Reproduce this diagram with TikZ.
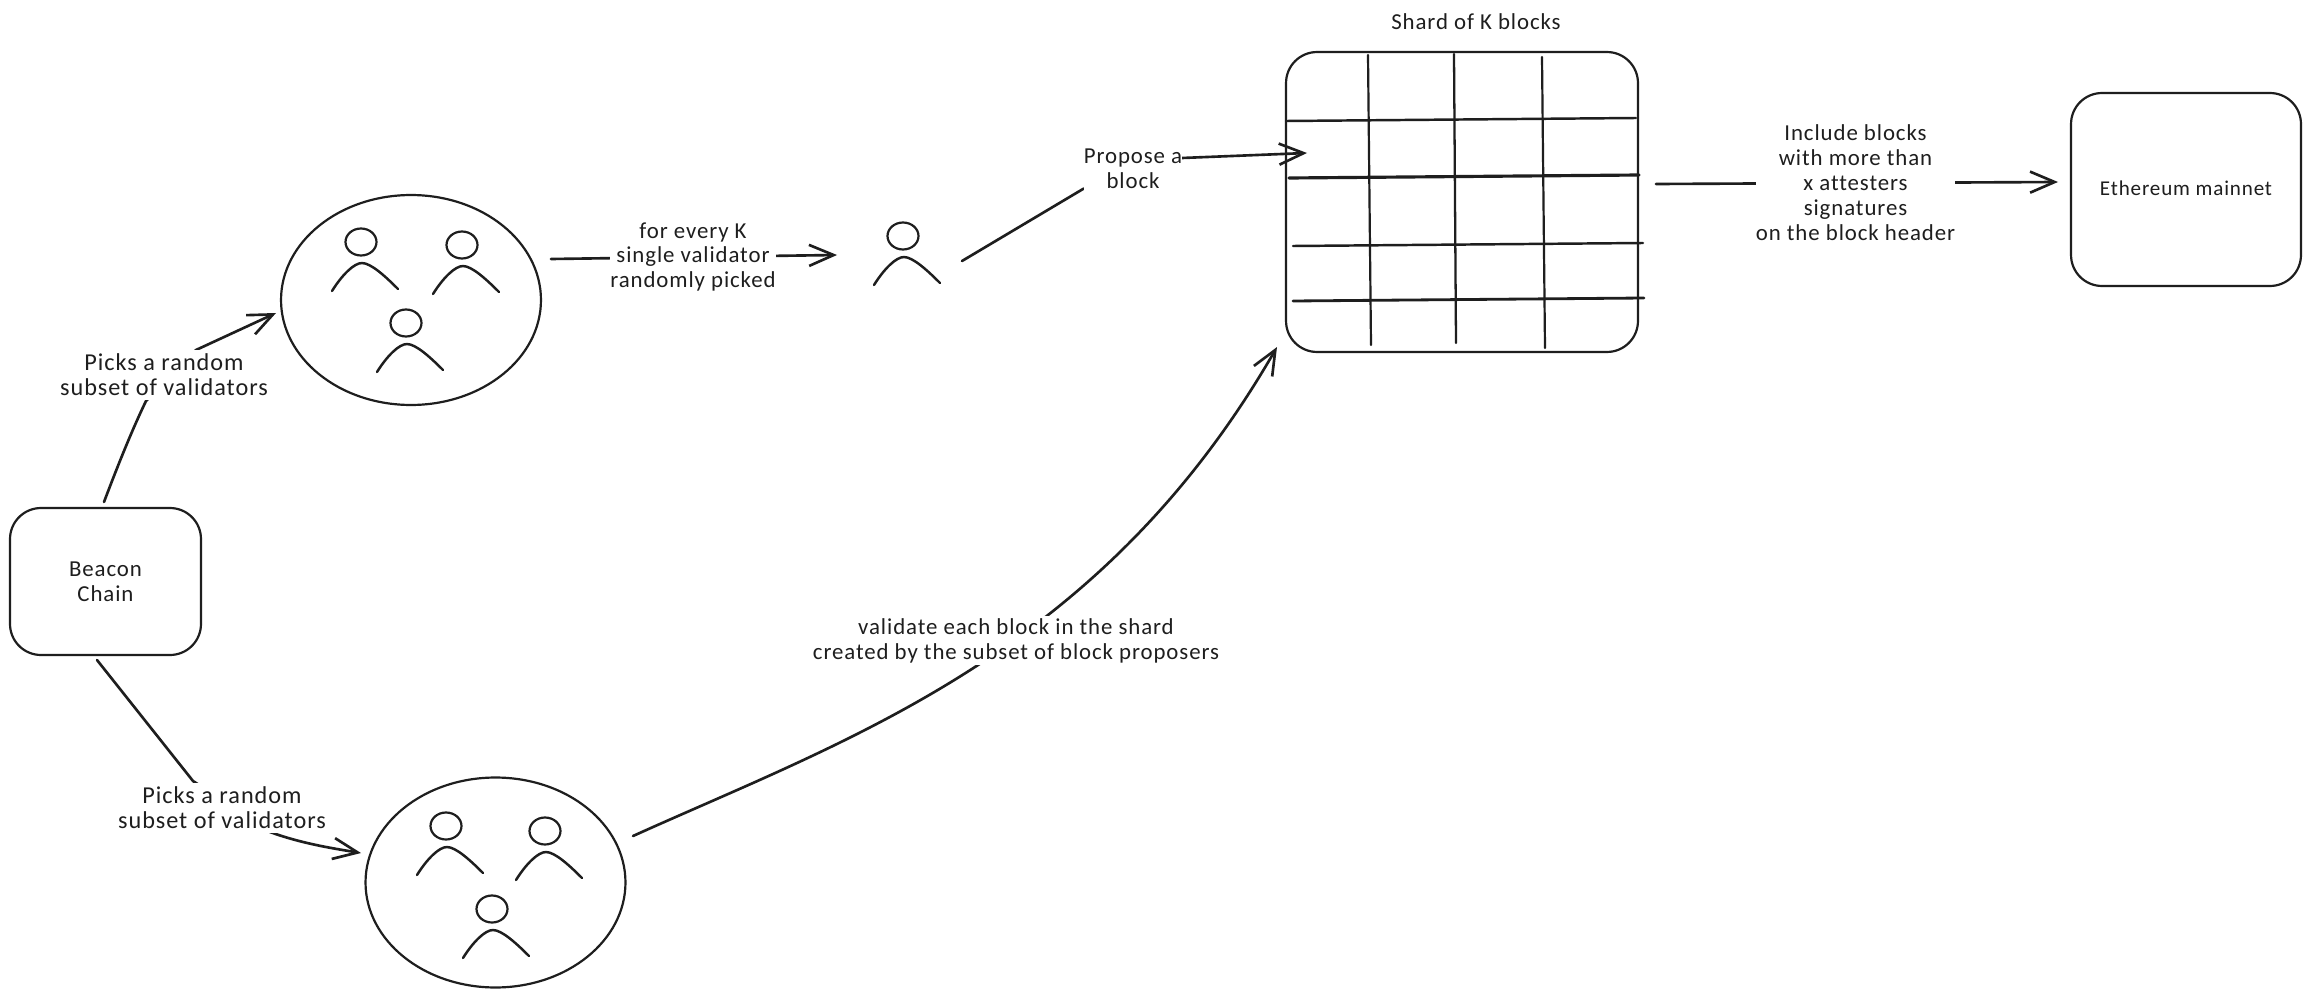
\documentclass[tikz,border=0pt]{standalone}
\usepackage{fontspec}
\setmainfont[LetterSpace=4,Ligatures=NoCommon]{Carlito}
\usetikzlibrary{arrows.meta,shapes.geometric}
\definecolor{ink}{HTML}{1E1E1E}
\tikzset{
  x=0.02cm,y=-0.02cm,
  every path/.style={line cap=round,line join=round},
  sketch/.style={draw=ink,line width=1.25pt},
  roundbox/.style={sketch,rectangle,rounded corners=0.62cm,inner sep=0pt,align=center,font=\fontsize{13}{14.2}\selectfont,text=ink},
  crowd/.style={sketch,ellipse,inner sep=0pt,minimum width=5.2cm,minimum height=4.2cm},
  lbl/.style={fill=white,inner sep=0pt,align=center,font=\fontsize{13}{14.2}\selectfont,text=ink},
  lblwide/.style={lbl,font=\fontsize{13.8}{14.2}\selectfont},
  link/.style={draw=ink,line width=1.5pt},
  arrowlink/.style={link,-{Straight Barb[length=14pt,width=12pt,line width=1.5pt]}},
  grid line/.style={draw=ink,line width=#1},
  person/.pic={
    \draw[sketch] (-1,-21) ellipse [x radius=15.5,y radius=13.5];
    \draw[sketch,line width=1.4pt] (-30,28) .. controls (-20,12) and (-8,0) .. (0,0) .. controls (9,0) and (24,14) .. (36,26);
  }
}
\begin{document}
\begin{tikzpicture}
\useasboundingbox (0,0) rectangle (2310,997);
\fill[white] (0,0) rectangle (2310,997);

% main nodes
\node[roundbox,minimum width=3.82cm,minimum height=2.94cm] (beacon) at (105.5,581.5) {Beacon\\Chain};
\node[roundbox,minimum width=7.04cm,minimum height=6cm] (shard) at (1462,202) {};
\node[roundbox,minimum width=4.6cm,minimum height=3.86cm,font=\fontsize{12}{14.2}\selectfont] (mainnet) at (2186,189.5) {\raisebox{1.5pt}{Ethereum mainnet}};
\node[crowd] (crowdA) at (411,300) {};
\node[crowd] (crowdB) at (495.5,882.5) {};
\node[lbl,fill=none] (title) at (1476,22) {Shard of K blocks};

% people
\pic at (362,263) {person};
\pic at (463,266) {person};
\pic at (407,344) {person};
\pic at (447,847) {person};
\pic at (546,852) {person};
\pic at (493,930) {person};
\pic at (904,257) {person};

% grid of the shard
\coordinate (va1) at (1368,55);  \coordinate (vb1) at (1371,345);
\coordinate (va2) at (1454,54);  \coordinate (vb2) at (1456,343);
\coordinate (va3) at (1542,57);  \coordinate (vb3) at (1545,348);
\coordinate (ha1) at (1286,121); \coordinate (hb1) at (1636,118);
\coordinate (ha2) at (1289,178); \coordinate (hb2) at (1639,175);
\coordinate (ha3) at (1293,246); \coordinate (hb3) at (1643,243);
\coordinate (ha4) at (1293,301); \coordinate (hb4) at (1644,298);
\draw[grid line=1.25pt] (va1) -- (vb1);
\draw[grid line=1.3pt] (va2) -- (vb2);
\draw[grid line=1.25pt] (va3) -- (vb3);
\draw[grid line=1.4pt] (ha1) -- (hb1);
\draw[grid line=1.8pt] (ha2) -- (hb2);
\draw[grid line=1.4pt] (ha3) -- (hb3);
\draw[grid line=1.6pt] (ha4) -- (hb4);

% connector end points
\coordinate (a0) at (104,502);  \coordinate (a1) at (146,401);
\coordinate (a2) at (196,350);  \coordinate (a3) at (276,313);
\coordinate (b0) at (97,660);   \coordinate (b1) at (193,781);
\coordinate (b2) at (270,832);  \coordinate (b3) at (361,853);
\coordinate (c0) at (551,259);  \coordinate (c1) at (837,255);
\coordinate (d0) at (962,261);  \coordinate (d1) at (1083,189);
\coordinate (d2) at (1182,158); \coordinate (d3) at (1307,153);
\coordinate (e0) at (633,836);  \coordinate (e1) at (1277,347);
\coordinate (f0) at (1656,184); \coordinate (f1) at (2058,182);

% connectors
\draw[arrowlink] (a0) .. controls (118,465) and (132,430) .. (a1) -- (a2) -- (a3);
\draw[arrowlink] (b0) -- (b1) -- (b2) .. controls (300,843) and (330,848) .. (b3);
\draw[arrowlink] (c0) -- (c1);
\draw[arrowlink] (d0) -- (d1) -- (d2) -- (d3);
\draw[arrowlink] (e0) .. controls (850,738) and (1100,654) .. (e1);
\draw[arrowlink] (f0) -- (f1);

% labels on the connectors
\node[lblwide,minimum width=4.12cm,minimum height=1cm] (la) at (164,375) {Picks a random\\subset of validators};
\node[lblwide,minimum width=4.12cm,minimum height=1cm] (lb) at (222,807.5) {Picks a random\\subset of validators};
\node[lbl,minimum width=3.02cm] (lc) at (693,257) {for every K\\single validator\\randomly picked};
\node[lbl,minimum width=1.96cm,minimum height=1cm] (ld) at (1133,168.5) {Propose a\\block};
\node[lbl,minimum width=8.22cm,minimum height=1cm] (le) at (1016,640.5) {validate each block in the shard\\created by the subset of block proposers};
\node[lbl,minimum width=3.88cm] (lf) at (1855.5,183) {Include blocks\\with more than\\x attesters\\signatures\\on the block header};
\end{tikzpicture}
\end{document}
